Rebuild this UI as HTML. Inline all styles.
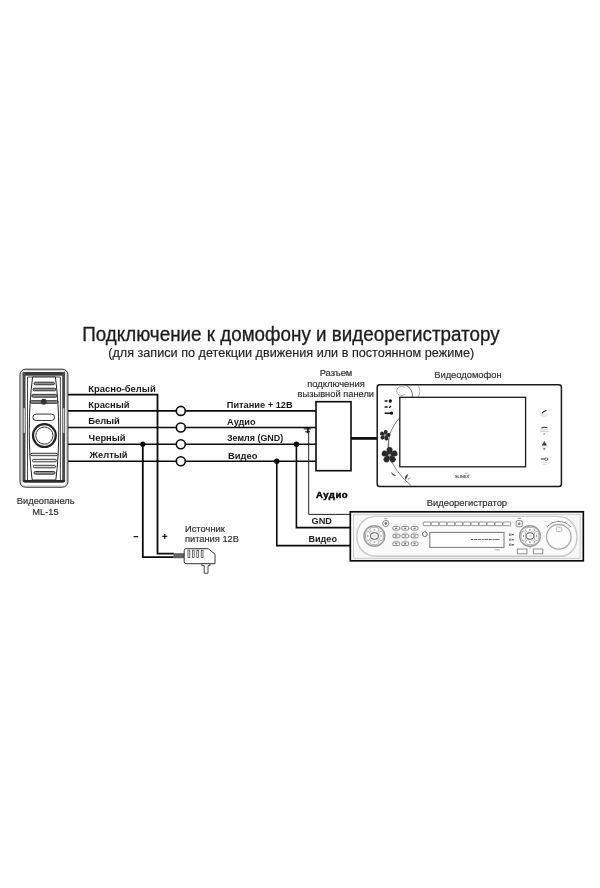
<!DOCTYPE html>
<html><head><meta charset="utf-8">
<style>
html,body{margin:0;padding:0;background:#fff;}
body{width:600px;height:888px;overflow:hidden;font-family:"Liberation Sans",sans-serif;}
svg{display:block;position:absolute;left:0;top:0;will-change:transform;}
text{font-family:"Liberation Sans",sans-serif;}
.b{font-weight:700;fill:#1a1a1a;}
.n{font-weight:400;fill:#303030;stroke:#303030;stroke-width:0.18;}
.w{stroke:#0a0a0a;stroke-width:1.6;fill:none;}
</style></head><body>
<svg width="600" height="888" viewBox="0 0 600 888">
<rect x="0" y="0" width="600" height="888" fill="#ffffff"/>
<rect x="0" y="311" width="600" height="264" fill="#fefefe"/>

<!-- TITLE -->
<g id="title">
<text x="82.2" y="341.3" font-size="19.5" class="n" style="fill:#1c1c1c;stroke:#1c1c1c;stroke-width:0.3" textLength="417.4" lengthAdjust="spacingAndGlyphs">Подключение к домофону и видеорегистратору</text>
<text x="108.2" y="356.7" font-size="12.9" class="n" style="fill:#222;stroke:#222;stroke-width:0.15" textLength="366" lengthAdjust="spacingAndGlyphs">(для записи по детекции движения или в постоянном режиме)</text>
</g>

<!-- WIRES -->
<g id="wires" class="w">
<path d="M68 394.6H157.5V553.6H174" stroke-width="1.8"/>
<path d="M68 410.9H176.3M185.3 410.9H316"/>
<path d="M68 427.5H176.3M185.3 427.5H316"/>
<path d="M68 444.2H176.3M185.3 444.2H316"/>
<path d="M68 461.2H176.3M185.3 461.2H316"/>
<path d="M142.8 444.2V557.2H174" stroke-width="1.8"/>
<path d="M276.8 461.2V545.6H351"/>
<path d="M296.4 444.2V527.6H351"/>
<path d="M308.7 427.5V514.4H351" stroke="#222" stroke-width="1"/>
<circle cx="180.8" cy="410.9" r="4.5" fill="#fff"/>
<circle cx="180.8" cy="427.5" r="4.5" fill="#fff"/>
<circle cx="180.8" cy="444.2" r="4.5" fill="#fff"/>
<circle cx="180.8" cy="461.2" r="4.5" fill="#fff"/>
</g>
<g id="dots" fill="#0a0a0a">
<circle cx="142.8" cy="444.2" r="2.6"/>
<circle cx="296.4" cy="444.2" r="2.7"/>
<circle cx="276.8" cy="461.2" r="2.7"/>
</g>
<!-- audio ticks -->
<g id="ticks" stroke="#111" stroke-width="1" fill="none">
<path d="M303.8 428.9H311.2M305 431.8H310M307.4 428.5V433.2"/>
</g>

<!-- CONNECTOR BOX -->
<rect x="316" y="401.7" width="35" height="69" fill="#fff" stroke="#0a0a0a" stroke-width="1.6"/>
<path d="M351 438.4H377.5" stroke="#111" stroke-width="2.8"/>

<!-- LABELS -->
<g id="labels-left" class="b" font-size="9.4">
<text x="88.2" y="392" textLength="67.5" lengthAdjust="spacingAndGlyphs">Красно-белый</text>
<text x="88.2" y="407.6">Красный</text>
<text x="88.2" y="424.2">Белый</text>
<text x="88.6" y="440.8">Черный</text>
<text x="89.5" y="458.2">Желтый</text>
</g>
<g id="labels-mid" class="b" font-size="9.4">
<text x="226.8" y="408.2" textLength="65.8" lengthAdjust="spacingAndGlyphs">Питание + 12В</text>
<text x="227" y="425" textLength="28.6" lengthAdjust="spacingAndGlyphs">Аудио</text>
<text x="227" y="441.2" textLength="56.2" lengthAdjust="spacingAndGlyphs">Земля (GND)</text>
<text x="228" y="458.7">Видео</text>
</g>
<g id="labels-conn" class="n" font-size="9.4" text-anchor="middle">
<text x="336" y="375.6">Разъем</text>
<text x="336" y="386.6">подключения</text>
<text x="335.8" y="396.6" textLength="76.4" lengthAdjust="spacingAndGlyphs">вызывной панели</text>
</g>
<g id="labels-other">
<text x="16.8" y="504" font-size="9.4" class="n" textLength="57.8" lengthAdjust="spacingAndGlyphs">Видеопанель</text>
<text x="32.3" y="514.6" font-size="9.4" class="n" textLength="26.3" lengthAdjust="spacingAndGlyphs">ML-15</text>
<text x="184.9" y="531.5" font-size="9.2" class="n" textLength="40.1" lengthAdjust="spacingAndGlyphs">Источник</text>
<text x="184.9" y="542" font-size="9.2" class="n" textLength="54.1" lengthAdjust="spacingAndGlyphs">питания 12В</text>
<text x="434.2" y="378" font-size="9.8" class="n" textLength="67.4" lengthAdjust="spacingAndGlyphs">Видеодомофон</text>
<text x="426.7" y="505.9" font-size="9.9" class="n" textLength="80.4" lengthAdjust="spacingAndGlyphs">Видеорегистратор</text>
<text x="316" y="498" font-size="8.7" class="b" style="fill:#000;stroke:#000;stroke-width:0.4;letter-spacing:0.4px" textLength="32" lengthAdjust="spacingAndGlyphs">Аудио</text>
<text x="311.6" y="524.4" font-size="9.4" class="b" textLength="20.4" lengthAdjust="spacingAndGlyphs">GND</text>
<text x="308.4" y="542.3" font-size="9.4" class="b" textLength="28.6" lengthAdjust="spacingAndGlyphs">Видео</text>
<path d="M133.6 536.7H138.2M162.2 536.4H167.2M164.7 533.9V538.9" stroke="#1a1a1a" stroke-width="1.3" fill="none"/>
</g>

<!-- PANEL -->
<g id="panel">
<rect x="20" y="369.2" width="47.9" height="118" rx="5.5" fill="#fff" stroke="#222" stroke-width="1"/>
<rect x="21.4" y="370.6" width="45.1" height="115.2" rx="4.2" fill="none" stroke="#aaa" stroke-width="0.6"/>
<rect x="23.2" y="372.6" width="41.4" height="109.6" rx="1.2" fill="#fff" stroke="#222" stroke-width="1"/>
<rect x="22.8" y="372.2" width="42.2" height="3.5" fill="#3a3a3a"/>
<rect x="22.8" y="372.4" width="2.7" height="109.4" fill="#4a4a4a"/>
<rect x="62.2" y="372.4" width="2.7" height="109.4" fill="#4a4a4a"/>
<rect x="23.3" y="408" width="1.9" height="25" fill="#ccc" stroke="#555" stroke-width="0.4"/>
<rect x="62.6" y="408" width="1.9" height="25" fill="#ccc" stroke="#555" stroke-width="0.4"/>
<path d="M27.5 377V481M60.4 377V481M27.5 377H60.4" stroke="#333" stroke-width="0.9" fill="none"/>
<path d="M32.6 377H55.4C59.8 410 59.8 450 55.8 480H32.2C28.2 450 28.2 410 32.6 377Z" fill="#fff" stroke="#222" stroke-width="1"/>
<g fill="#909090" stroke="#222" stroke-width="0.9">
<rect x="34" y="382.2" width="20.5" height="2.6" rx="1.3"/>
<rect x="33" y="388.2" width="23" height="2.6" rx="1.3"/>
<rect x="31.8" y="394.4" width="25.2" height="2.8" rx="1.4"/>
<rect x="30.2" y="400.7" width="27.8" height="2.6" rx="1.3"/>
<rect x="30.8" y="453.3" width="26.6" height="2.4" rx="1.2" fill="#e8e8e8"/>
<rect x="32.4" y="459.3" width="24" height="2.5" rx="1.25" fill="#eee"/>
<rect x="33.4" y="465.3" width="22.2" height="2.5" rx="1.25" fill="#ddd"/>
<rect x="34" y="471.5" width="21" height="2.7" rx="1.35" fill="#999"/>
</g>
<circle cx="43.8" cy="401.8" r="3" fill="#333"/>
<path d="M23 481.1H65" stroke="#2a2a2a" stroke-width="2"/>
<rect x="32.9" y="414.1" width="21.7" height="6.4" rx="3.2" fill="#fff" stroke="#222" stroke-width="0.9"/>
<circle cx="44.4" cy="435.6" r="11.4" fill="#fff" stroke="#222" stroke-width="2.2"/>
<circle cx="44.4" cy="435.6" r="8.6" fill="#fff" stroke="#333" stroke-width="1"/>
</g>
<!-- ADAPTER -->
<g id="adapter">
<rect x="173.3" y="553.2" width="11.2" height="5" fill="#777"/>
<path d="M175 553.2V558.2M177 553.2V558.2M179 553.2V558.2M181 553.2V558.2M183 553.2V558.2" stroke="#333" stroke-width="0.6"/>
<path d="M186 548.7H208.3L215 554.2V563.7H186Q184.2 563.7 184.2 561.9V550.5Q184.2 548.7 186 548.7Z" fill="#fff" stroke="#333" stroke-width="1"/>
<g fill="#fff" stroke="#333" stroke-width="0.7">
<rect x="188" y="550.2" width="1.8" height="7.2"/>
<rect x="192.4" y="550.2" width="1.8" height="7.2"/>
<rect x="196.8" y="550.2" width="1.8" height="7.2"/>
<rect x="201.2" y="550.2" width="1.8" height="7.2"/>
</g>
<path d="M201.8 563.7H210V565.6H208V573.3H204.2V565.6H201.8Z" fill="#fff" stroke="#333" stroke-width="0.9"/>
</g>
<!-- MONITOR -->
<g id="monitor">
<rect x="377.2" y="384.7" width="184.2" height="101.8" rx="2.5" fill="#fff" stroke="#1a1a1a" stroke-width="1.5"/>
<path d="M406 385.3Q412.6 388.5 412.6 397.2" stroke="#333" stroke-width="0.7" fill="none"/>
<path d="M404.3 387.3A4.6 4.8 0 1 0 405.2 393.6" stroke="#999" stroke-width="0.8" fill="none"/>
<path d="M418 397.2Q421.5 391 418.5 386" stroke="#999" stroke-width="0.8" fill="none"/>
<path d="M399.7 417.5Q392 427 390 434Q386.5 446 389.5 455Q393 470 411 485.6" stroke="#444" stroke-width="0.7" fill="none"/>
<path d="M388.6 439V450" stroke="#777" stroke-width="1.2" fill="none"/>
<rect x="399.8" y="397.3" width="125.8" height="69.5" fill="#fff" stroke="#1a1a1a" stroke-width="1.3"/>
<g fill="#2a2a2a"><path d="M0 -0.9C-2.4 -1.8 -3.9 -5.3 -2.3 -7.5Q0 -9 2.3 -7.5C3.9 -5.3 2.4 -1.8 0 -0.9Z" transform="translate(385 435.3) rotate(12) scale(0.66)"/><path d="M0 -0.9C-2.4 -1.8 -3.9 -5.3 -2.3 -7.5Q0 -9 2.3 -7.5C3.9 -5.3 2.4 -1.8 0 -0.9Z" transform="translate(385 435.3) rotate(84) scale(0.66)"/><path d="M0 -0.9C-2.4 -1.8 -3.9 -5.3 -2.3 -7.5Q0 -9 2.3 -7.5C3.9 -5.3 2.4 -1.8 0 -0.9Z" transform="translate(385 435.3) rotate(156) scale(0.66)"/><path d="M0 -0.9C-2.4 -1.8 -3.9 -5.3 -2.3 -7.5Q0 -9 2.3 -7.5C3.9 -5.3 2.4 -1.8 0 -0.9Z" transform="translate(385 435.3) rotate(228) scale(0.66)"/><path d="M0 -0.9C-2.4 -1.8 -3.9 -5.3 -2.3 -7.5Q0 -9 2.3 -7.5C3.9 -5.3 2.4 -1.8 0 -0.9Z" transform="translate(385 435.3) rotate(300) scale(0.66)"/></g><circle cx="385" cy="435.3" r="0.86" fill="#999"/>
<g fill="#2a2a2a"><path d="M0 -0.9C-2.4 -1.8 -3.9 -5.3 -2.3 -7.5Q0 -9 2.3 -7.5C3.9 -5.3 2.4 -1.8 0 -0.9Z" transform="translate(389.6 455.2) rotate(0) scale(1.0)"/><path d="M0 -0.9C-2.4 -1.8 -3.9 -5.3 -2.3 -7.5Q0 -9 2.3 -7.5C3.9 -5.3 2.4 -1.8 0 -0.9Z" transform="translate(389.6 455.2) rotate(72) scale(1.0)"/><path d="M0 -0.9C-2.4 -1.8 -3.9 -5.3 -2.3 -7.5Q0 -9 2.3 -7.5C3.9 -5.3 2.4 -1.8 0 -0.9Z" transform="translate(389.6 455.2) rotate(144) scale(1.0)"/><path d="M0 -0.9C-2.4 -1.8 -3.9 -5.3 -2.3 -7.5Q0 -9 2.3 -7.5C3.9 -5.3 2.4 -1.8 0 -0.9Z" transform="translate(389.6 455.2) rotate(216) scale(1.0)"/><path d="M0 -0.9C-2.4 -1.8 -3.9 -5.3 -2.3 -7.5Q0 -9 2.3 -7.5C3.9 -5.3 2.4 -1.8 0 -0.9Z" transform="translate(389.6 455.2) rotate(288) scale(1.0)"/></g><circle cx="389.6" cy="455.2" r="1.30" fill="#999"/>
<path d="M391 472Q393.2 474.6 396.2 475.4Q392.6 477 391 472Z" fill="#333"/>
<path d="M405.4 480Q404.2 476 407.8 473.8Q408 477.4 405.4 480Z" fill="#333"/>
<path d="M407 480.2Q408 478 411 477Q410 479.6 407 480.2Z" fill="#999"/>
<g stroke="#111" stroke-width="1.5" fill="#111">
<path d="M384.6 401H387.6M384.6 407H387.6M384.6 413.2H391"/>
<circle cx="390.3" cy="401" r="0.9"/>
<circle cx="391.5" cy="413.2" r="0.9"/>
<path d="M389 407.6L391.2 406.2" fill="none"/>
</g>
<!-- right icons -->
<g stroke="#333" fill="none" stroke-linecap="round">
<path d="M542.3 413Q543.5 411 546 410.6" stroke-width="1.1"/>
<path d="M540.8 415H547.4" stroke="#bbb" stroke-width="0.6"/>
<path d="M542 416.8H546.5" stroke="#ccc" stroke-width="0.6"/>
<path d="M541.8 427.8Q544.4 426.6 547 427.8" stroke-width="1.1"/>
<path d="M540.5 429.8H548M540.5 431.6H548" stroke="#aaa" stroke-width="0.6"/>
<path d="M543.8 434H544.8" stroke="#777" stroke-width="1"/>
<path d="M544.3 441.8L546.6 445.2H542L544.3 441.8Z" fill="#333" stroke-width="0.5"/>
<path d="M540.8 447H548" stroke="#bbb" stroke-width="0.6"/>
<path d="M543.4 448.6H545.4L544.4 449.8Z" fill="#555" stroke="#555" stroke-width="0.4"/>
<path d="M541.2 459H544.5" stroke-width="1"/>
<ellipse cx="546.2" cy="459.2" rx="1.6" ry="1.3" stroke-width="0.7"/>
<path d="M541.5 462.6H547M542.5 464.6H546" stroke="#ccc" stroke-width="0.6"/>
</g>
<!-- logo -->
<text x="455" y="477.9" font-size="3.2" font-weight="700" fill="#444" textLength="14.2" lengthAdjust="spacingAndGlyphs">SLINEX</text>
<path d="M464.4 473.4Q468 471.6 469.8 475.6" stroke="#777" stroke-width="0.5" fill="none"/>
</g>
<!-- DVR -->
<g id="dvr">
<rect x="350.3" y="511.8" width="233" height="49" fill="#fff" stroke="#0a0a0a" stroke-width="1.7"/>
<rect x="353.4" y="514.3" width="226.8" height="44" fill="#f7f7f7" stroke="#c4c4c4" stroke-width="0.9"/>
<path d="M376 516.4H557.5C583 516.8 583 556 560 556.3H376C350.5 556 350.5 516.8 376 516.4Z" fill="#fbfbfb" stroke="#c8c8c8" stroke-width="1.4"/>
<g stroke="#666" fill="none" stroke-width="0.9">
<ellipse cx="374.4" cy="536" rx="10.4" ry="10.2" stroke="#9a9a9a" stroke-width="1.4" fill="#f0f0f0"/>
<g fill="#fff" stroke="#888" stroke-width="0.6">
<ellipse cx="374.4" cy="529.8" rx="4.6" ry="2.5"/>
<ellipse cx="374.4" cy="542.2" rx="4.6" ry="2.5"/>
<ellipse cx="367.79999999999995" cy="536" rx="2.4" ry="4.6"/>
<ellipse cx="381.0" cy="536" rx="2.4" ry="4.6"/>
</g>
<ellipse cx="374.4" cy="536" rx="4" ry="3.3" stroke="#5a5a5a" stroke-width="0.9" fill="#fff"/>
<path d="M373.09999999999997 536H375.7" stroke="#999" stroke-width="0.7"/>
<path d="M373.59999999999997 529.8H375.2M373.59999999999997 542.2H375.2" stroke="#444" stroke-width="0.8"/>
<path d="M367.79999999999995 535.3V536.7M381.0 535.3V536.7" stroke="#444" stroke-width="0.8"/>
</g>
<g stroke="#666" fill="none" stroke-width="0.9">
<ellipse cx="530" cy="536" rx="10.4" ry="10.2" stroke="#9a9a9a" stroke-width="1.4" fill="#f0f0f0"/>
<g fill="#fff" stroke="#888" stroke-width="0.6">
<ellipse cx="530" cy="529.8" rx="4.6" ry="2.5"/>
<ellipse cx="530" cy="542.2" rx="4.6" ry="2.5"/>
<ellipse cx="523.4" cy="536" rx="2.4" ry="4.6"/>
<ellipse cx="536.6" cy="536" rx="2.4" ry="4.6"/>
</g>
<ellipse cx="530" cy="536" rx="4" ry="3.3" stroke="#5a5a5a" stroke-width="0.9" fill="#fff"/>
<path d="M528.7 536H531.3" stroke="#999" stroke-width="0.7"/>
<path d="M529.2 529.8H530.8M529.2 542.2H530.8" stroke="#444" stroke-width="0.8"/>
<path d="M523.4 535.3V536.7M536.6 535.3V536.7" stroke="#444" stroke-width="0.8"/>
</g>
<g fill="#fff" stroke="#6a6a6a" stroke-width="0.8">
<circle cx="385.8" cy="523.5" r="3.1"/>
<circle cx="385.8" cy="523.5" r="1.3" fill="#666" stroke="none"/>
<rect x="516.2" y="520.6" width="6.2" height="6.2" rx="1.6"/>
<circle cx="519.3" cy="523.7" r="1.3" fill="#777" stroke="none"/>
<path d="M384.3 518.6H387.3M517.6 518.4H521" stroke="#666" stroke-width="0.6"/>
<rect x="392.8" y="526.5" width="6.8" height="3.6" rx="1.1"/><path d="M395.2 528.3H397.2" stroke="#333" stroke-width="0.9"/><path d="M394.2 524.7H398.2" stroke="#bbb" stroke-width="0.6"/><rect x="401.8" y="526.5" width="6.8" height="3.6" rx="1.1"/><path d="M404.2 528.3H406.2" stroke="#333" stroke-width="0.9"/><path d="M403.2 524.7H407.2" stroke="#bbb" stroke-width="0.6"/><rect x="411.2" y="526.5" width="6.8" height="3.6" rx="1.1"/><path d="M413.6 528.3H415.6" stroke="#333" stroke-width="0.9"/><path d="M412.6 524.7H416.6" stroke="#bbb" stroke-width="0.6"/><rect x="392.8" y="534.2" width="6.8" height="3.6" rx="1.1"/><path d="M395.2 536.0H397.2" stroke="#333" stroke-width="0.9"/><path d="M394.2 532.4H398.2" stroke="#bbb" stroke-width="0.6"/><rect x="401.8" y="534.2" width="6.8" height="3.6" rx="1.1"/><path d="M404.2 536.0H406.2" stroke="#333" stroke-width="0.9"/><path d="M403.2 532.4H407.2" stroke="#bbb" stroke-width="0.6"/><rect x="411.2" y="534.2" width="6.8" height="3.6" rx="1.1"/><path d="M413.6 536.0H415.6" stroke="#333" stroke-width="0.9"/><path d="M412.6 532.4H416.6" stroke="#bbb" stroke-width="0.6"/><rect x="392.8" y="542.0" width="6.8" height="3.6" rx="1.1"/><path d="M395.2 543.8H397.2" stroke="#333" stroke-width="0.9"/><path d="M394.2 540.2H398.2" stroke="#bbb" stroke-width="0.6"/><rect x="401.8" y="542.0" width="6.8" height="3.6" rx="1.1"/><path d="M404.2 543.8H406.2" stroke="#333" stroke-width="0.9"/><path d="M403.2 540.2H407.2" stroke="#bbb" stroke-width="0.6"/><rect x="411.2" y="542.0" width="6.8" height="3.6" rx="1.1"/><path d="M413.6 543.8H415.6" stroke="#333" stroke-width="0.9"/><path d="M412.6 540.2H416.6" stroke="#bbb" stroke-width="0.6"/><path d="M400 528.3H401.4M409 528.3H410.8M400 536H401.4M409 536H410.8" stroke="#888" stroke-width="0.5"/>
<path d="M424.8 531.6L427 532.9V535.5L424.8 536.8L422.6 535.5V532.9Z" stroke="#444" stroke-width="0.8"/>
</g>
<g fill="#fff" stroke="#666" stroke-width="0.7"><rect x="423.30" y="522" width="7.6" height="3.7" rx="0.8"/><rect x="431.27" y="522" width="7.6" height="3.7" rx="0.8"/><rect x="439.24" y="522" width="7.6" height="3.7" rx="0.8"/><rect x="447.21" y="522" width="7.6" height="3.7" rx="0.8"/><rect x="455.18" y="522" width="7.6" height="3.7" rx="0.8"/><rect x="463.15" y="522" width="7.6" height="3.7" rx="0.8"/><rect x="471.12" y="522" width="7.6" height="3.7" rx="0.8"/><rect x="479.09" y="522" width="7.6" height="3.7" rx="0.8"/><rect x="487.06" y="522" width="7.6" height="3.7" rx="0.8"/><rect x="495.03" y="522" width="7.6" height="3.7" rx="0.8"/><rect x="503.00" y="522" width="7.6" height="3.7" rx="0.8"/></g>
<rect x="429.8" y="532.4" width="74.2" height="15" fill="#fff" stroke="#777" stroke-width="1"/>
<path d="M470.8 539.5H500" stroke="#555" stroke-width="0.9" stroke-dasharray="2.2 0.5 4 0.5 3 0.6"/>
<path d="M494.5 549.8H500" stroke="#aaa" stroke-width="1"/>
<g stroke="#555" stroke-width="0.6" fill="none">
<rect x="509.4" y="533.9" width="1.6" height="1.6"/><path d="M511.8 534.7H513.8" stroke="#333" stroke-width="1"/>
<rect x="509.4" y="539" width="1.6" height="1.6"/><path d="M511.8 539.8H513.8" stroke="#333" stroke-width="1"/>
<rect x="509.4" y="544" width="1.6" height="1.6"/><path d="M511.8 544.8H513.8" stroke="#333" stroke-width="1.2"/>
</g>
<g fill="#fff" stroke="#777" stroke-width="0.8">
<rect x="517.3" y="549" width="9.7" height="4.8"/>
<rect x="533.3" y="549" width="9.5" height="4.8"/>
</g>
<path d="M529.4 548H530.8" stroke="#888" stroke-width="0.8"/>
<circle cx="558.8" cy="536.8" r="12.3" fill="#fdfdfd" stroke="#aaa" stroke-width="1.3"/>
<rect x="556.2" y="527.2" width="5.6" height="4.5" rx="1.2" fill="#fff" stroke="#999" stroke-width="0.7"/>
<path d="M547.3 526.6A15.6 15.6 0 0 1 570.4 526.6" fill="none" stroke="#666" stroke-width="0.7"/>
<path d="M546.6 526L548 527.2M552 521.7L552.6 523.2M558.8 520.3V522M565.6 521.7L565 523.2M571 526L569.7 527.2" stroke="#666" stroke-width="0.6"/>
<path d="M544.8 521.4H546.6" stroke="#aaa" stroke-width="0.6"/>
</g>
</svg>
</body></html>
